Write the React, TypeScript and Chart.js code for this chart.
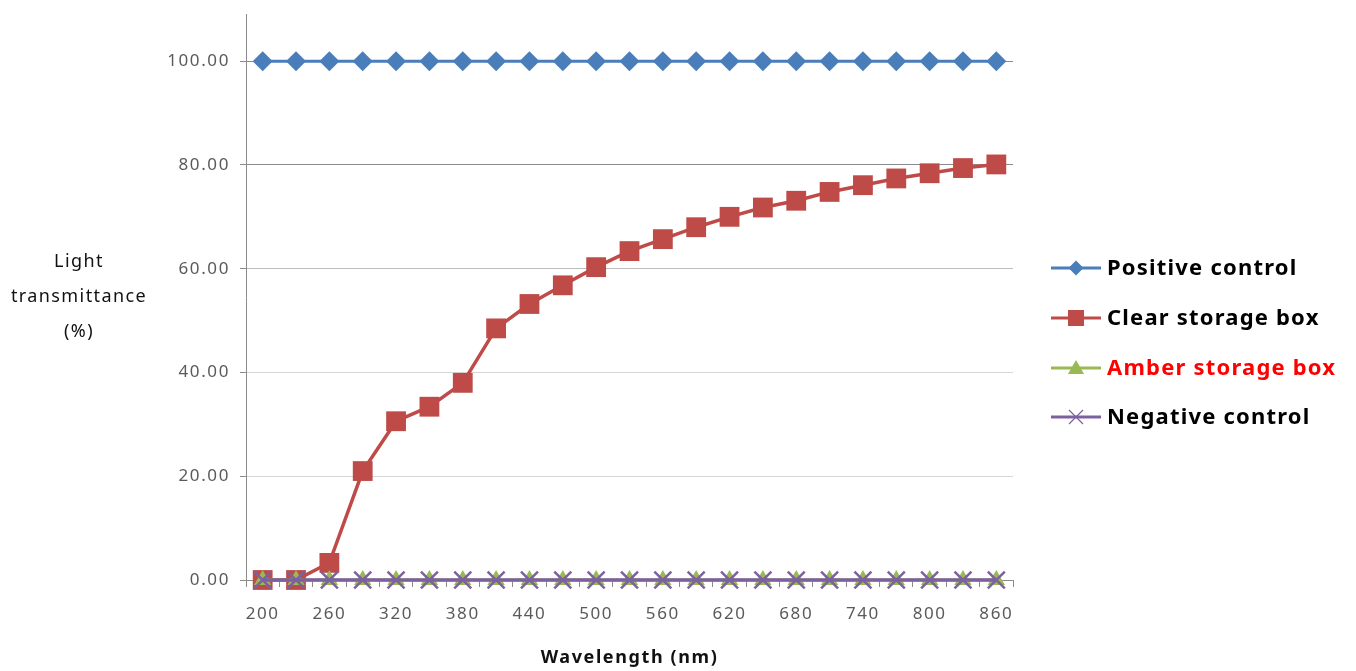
import React, { useEffect, useRef } from 'react';
import { Chart, registerables } from 'chart.js';

Chart.register(...registerables);

const wavelengths = [200, 230, 260, 290, 320, 350, 380, 410, 440, 470, 500, 530, 560, 590, 620, 650, 680, 710, 740, 770, 800, 830, 860];
const positiveControl = [100, 100, 100, 100, 100, 100, 100, 100, 100, 100, 100, 100, 100, 100, 100, 100, 100, 100, 100, 100, 100, 100, 100];
const clearBox = [0, 0, 3.3, 21.0, 30.6, 33.4, 38.0, 48.5, 53.2, 56.8, 60.3, 63.4, 65.7, 68.0, 70.0, 71.8, 73.1, 74.8, 76.1, 77.4, 78.4, 79.4, 80.1];
const amberBox = [0, 0, 0, 0, 0, 0, 0, 0, 0, 0, 0, 0, 0, 0, 0, 0, 0, 0, 0, 0, 0, 0, 0];
const negativeControl = [0, 0, 0, 0, 0, 0, 0, 0, 0, 0, 0, 0, 0, 0, 0, 0, 0, 0, 0, 0, 0, 0, 0];
const yTicks = [0, 20, 40, 60, 80, 100];
const seriesNames = ['Positive control', 'Clear storage box', 'Amber storage box', 'Negative control'];
const yTitleLines = ['Light', 'transmittance', '(%)'];
const xTitle = 'Wavelength (nm)';

const BLUE = '#4A7EBB';
const RED = '#BE4B48';
const GREEN = '#98B954';
const PURPLE = '#7D60A0';

const FONT = "'Noto Sans', 'Open Sans', sans-serif";

function drawMarker(ctx: CanvasRenderingContext2D, kind: string, x: number, y: number, color: string) {
  ctx.save();
  ctx.fillStyle = color;
  ctx.strokeStyle = color;
  ctx.beginPath();
  if (kind === 'diamond') {
    const r = 7.5;
    ctx.moveTo(x, y - r); ctx.lineTo(x + r, y); ctx.lineTo(x, y + r); ctx.lineTo(x - r, y); ctx.closePath(); ctx.fill();
  } else if (kind === 'square') {
    const s = 8;
    ctx.rect(x - s, y - s, 2 * s, 2 * s); ctx.fill();
  } else if (kind === 'triangle') {
    const r = 8;
    ctx.moveTo(x, y - r); ctx.lineTo(x + r, y + r * 0.75); ctx.lineTo(x - r, y + r * 0.75); ctx.closePath(); ctx.fill();
  } else {
    const r = 7;
    ctx.lineWidth = 1.2;
    ctx.moveTo(x - r, y - r); ctx.lineTo(x + r, y + r);
    ctx.moveTo(x + r, y - r); ctx.lineTo(x - r, y + r);
    ctx.stroke();
  }
  ctx.restore();
}

const spacingPlugin = {
  id: 'spacing',
  beforeDraw(chart: any) {
    (chart.ctx as any).letterSpacing = '1.6px';
  },
};

const extrasPlugin = {
  id: 'extras',
  afterDraw(chart: any) {
    const ctx: any = chart.ctx;
    ctx.save();
    // y title
    ctx.letterSpacing = '1.4px';
    ctx.fillStyle = '#111';
    ctx.font = `18px ${FONT}`;
    ctx.textAlign = 'center';
    ctx.textBaseline = 'middle';
    const ys = [262, 297, 332];
    yTitleLines.forEach((t, i) => ctx.fillText(t, 79, ys[i]));
    // legend
    const colors = [BLUE, RED, GREEN, PURPLE];
    const kinds = ['diamond', 'square', 'triangle', 'cross'];
    const textColors = ['#000', '#000', '#FF0000', '#000'];
    const ly = [268, 318, 368, 417];
    seriesNames.forEach((name, i) => {
      ctx.strokeStyle = colors[i];
      ctx.lineWidth = 3;
      ctx.beginPath();
      ctx.moveTo(1051, ly[i]);
      ctx.lineTo(1101, ly[i]);
      ctx.stroke();
      drawMarker(ctx, kinds[i], 1076, ly[i], colors[i]);
      ctx.fillStyle = textColors[i];
      ctx.letterSpacing = '1.2px';
      ctx.font = `bold 22px ${FONT}`;
      ctx.textAlign = 'left';
      ctx.textBaseline = 'middle';
      ctx.fillText(name, 1107, ly[i] + 1);
    });
    ctx.restore();
  },
};

export default function App() {
  const ref = useRef<HTMLCanvasElement | null>(null);

  useEffect(() => {
    if (!ref.current) return;
    const chart = new Chart(ref.current, {
      type: 'line',
      data: {
        labels: wavelengths.map(String),
        datasets: [
          {
            label: seriesNames[0], data: positiveControl, borderColor: BLUE, backgroundColor: BLUE,
            borderWidth: 3, pointStyle: 'rectRot', pointRadius: 10, pointBorderWidth: 0, order: 3, clip: false,
          },
          {
            label: seriesNames[1], data: clearBox, borderColor: RED, backgroundColor: RED,
            borderWidth: 3.5, pointStyle: 'rect', pointRadius: 14, pointBorderWidth: 0, order: 2, clip: false,
          },
          {
            label: seriesNames[2], data: amberBox, borderColor: GREEN, backgroundColor: GREEN,
            borderWidth: 3, pointStyle: 'triangle', pointRadius: 10, pointBorderWidth: 0, order: 1, clip: false,
          },
          {
            label: seriesNames[3], data: negativeControl, borderColor: PURPLE, backgroundColor: PURPLE,
            borderWidth: 3.5, pointStyle: 'crossRot', pointRadius: 12, pointBorderWidth: 2.5, order: 0, clip: false,
          },
        ],
      },
      options: {
        animation: false,
        responsive: true,
        maintainAspectRatio: false,
        layout: { padding: { left: 0, top: 2, right: 343, bottom: 0 } },
        plugins: { legend: { display: false }, tooltip: { enabled: false } },
        scales: {
          x: {
            offset: true,
            grid: { offset: true, drawOnChartArea: false, drawTicks: true, tickLength: 7, color: '#8c8c8c' },
            border: { display: true, color: '#8c8c8c', width: 1 },
            ticks: {
              autoSkip: false, maxRotation: 0, padding: 17, color: '#5a5a5a',
              font: { family: FONT, size: 17 },
              callback: (_v: any, i: number) => (i % 2 === 0 ? String(wavelengths[i]) : ''),
            },
            title: { display: true, text: xTitle, color: '#111', font: { family: FONT, size: 18, weight: 'bold' }, padding: { top: 8, bottom: 2 } },
            afterFit: (s: any) => { s.height = 91; s.paddingLeft = 0; s.paddingRight = 0; },
          },
          y: {
            min: 0, max: 109,
            afterBuildTicks: (s: any) => { s.ticks = yTicks.map((v) => ({ value: v })); },
            grid: {
              color: (c: any) => (c.tick && c.tick.value >= 80 ? '#8a8a8a' : c.tick && c.tick.value === 60 ? '#bdbdbd' : '#d6d6d6'),
              tickColor: '#8c8c8c', tickLength: 6, lineWidth: 1,
            },
            border: { display: true, color: '#8c8c8c', width: 1 },
            ticks: {
              padding: 10, color: '#5a5a5a', font: { family: FONT, size: 17 },
              callback: (v: any) => Number(v).toFixed(2),
            },
            afterFit: (s: any) => { s.width = 246; s.paddingTop = 0; s.paddingBottom = 0; },
          },
        },
      },
      plugins: [spacingPlugin, extrasPlugin],
    } as any);
    return () => chart.destroy();
  }, []);

  return (
    <div style={{ position: 'fixed', left: 0, top: 0, width: 1356, height: 671, background: '#fff' }}>
      <canvas ref={ref} />
    </div>
  );
}
